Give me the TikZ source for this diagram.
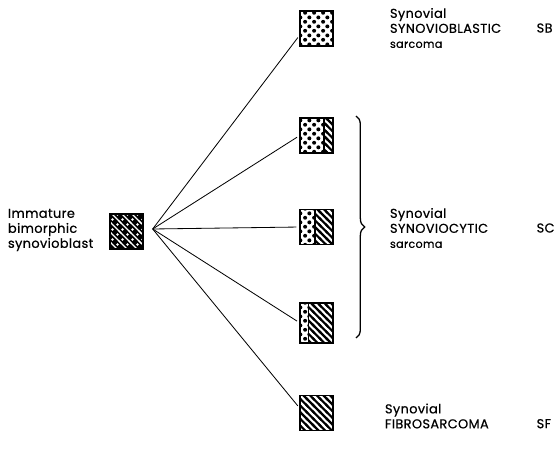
\documentclass[tikz,border=0pt]{standalone}
\usepackage{fontspec}
\setmainfont{Poppins}[LetterSpace=3, FakeBold=0.6]
\usetikzlibrary{patterns.meta,decorations.pathreplacing,calc}

% fillings of the cells
\tikzdeclarepattern{
  name=celldots,
  type=uncolored,
  bounding box={(0mm,0mm) and (2.6mm,2.8mm)},
  tile size={(2.6mm,2.8mm)},
  code={
    \fill (0.65mm,0.7mm) circle (0.62mm);
    \fill (1.95mm,2.1mm) circle (0.62mm);
  }
}
\tikzdeclarepattern{
  name=cellstripes,
  type=uncolored,
  bounding box={(-0.5mm,-0.5mm) and (2.5mm,2.5mm)},
  tile size={(2mm,2mm)},
  code={
    \draw[line width=0.65mm] (-0.5mm,2.5mm) -- (2.5mm,-0.5mm);
  }
}
\tikzdeclarepattern{
  name=cellmixed,
  type=uncolored,
  bounding box={(-0.5mm,-0.5mm) and (3.5mm,3.5mm)},
  tile size={(3mm,3mm)},
  code={
    \draw[line width=0.35mm] (-0.5mm,3.5mm) -- (3.5mm,-0.5mm);
    \fill (0.75mm,0.75mm) circle (0.4mm);
    \fill (2.25mm,2.25mm) circle (0.4mm);
  }
}

\begin{document}
\begin{tikzpicture}[every node/.style={inner sep=0pt, outer sep=0pt},
	cell/.style={minimum width=1cm, minimum height=1.05cm},
	frame/.style={line width=1.5pt},
	fan/.style={line width=0.7pt, shorten >=3pt},
	txt/.style={anchor=west, align=left, font=\fontsize{11}{12.8}\selectfont}]
	
	\useasboundingbox (0,0) rectangle (16.8,13.56);
	
	\node[cell, fill=black] (0) at (3.8,6.62) {};
	\fill[pattern=cellmixed, pattern color=white] (0.south west) rectangle (0.north east);
	\node[cell, pattern=celldots] (1) at (9.5,12.7) {};
	\node[cell, pattern=celldots] (2) at (9.5,9.5) {};
	\node[cell, pattern=celldots] (3) at (9.5,6.75) {};
	\node[cell, minimum height=1.2cm, pattern=celldots] (4) at (9.5,3.87) {};
	\node[cell, pattern=cellstripes] (5) at (9.5,1.17) {};
	
	% striped part of the split cells
	\foreach \n/\f in {2/0.72, 3/0.45, 4/0.25} {
		\fill[preaction={fill=white}, pattern=cellstripes] ($(\n.south west)!\f!(\n.south east)$) rectangle (\n.north east);
		\draw[line width=1pt] ($(\n.south west)!\f!(\n.south east)$) -- ($(\n.north west)!\f!(\n.north east)$);
	}
	\foreach \n in {0,...,5}
		\draw[frame] (\n.south west) rectangle (\n.north east);
	
	\coordinate (c) at (4.58,6.69);
	\path (c) edge[fan] (1.200);
	\path (c) edge[fan] (2.west);
	\path (c) edge[fan] (3.west);
	\path (c) edge[fan] (4.west);
	\path (c) edge[fan] (5.165);
	
	\coordinate (bt) at (10.68,10.08);
	\coordinate (bb) at (10.68,3.42);
	\draw[line width=1.1pt, decorate, decoration={brace, amplitude=0.26cm}] (bt) -- (bb);
	
	\node[txt] (t0) at (0.24,6.66) {Immature\\bimorphic\\synovioblast};
	\node[txt] (t1) at (11.7,12.72) {Synovial\\SYNOVIOBLASTIC\\{\fontsize{9.5}{10}\selectfont sarcoma}};
	\node[txt] (t2) at (11.7,6.72) {Synovial\\SYNOVIOCYTIC\\{\fontsize{9.5}{10}\selectfont sarcoma}};
	\node[txt] (t3) at (11.55,1.08) {Synovial\\FIBROSARCOMA};
	\node[txt] (sb) at (16.1,12.72) {SB};
	\node[txt] (sc) at (16.1,6.72) {SC};
	\node[txt] (sf) at (16.1,0.85) {SF};
	
\end{tikzpicture}
\end{document}
